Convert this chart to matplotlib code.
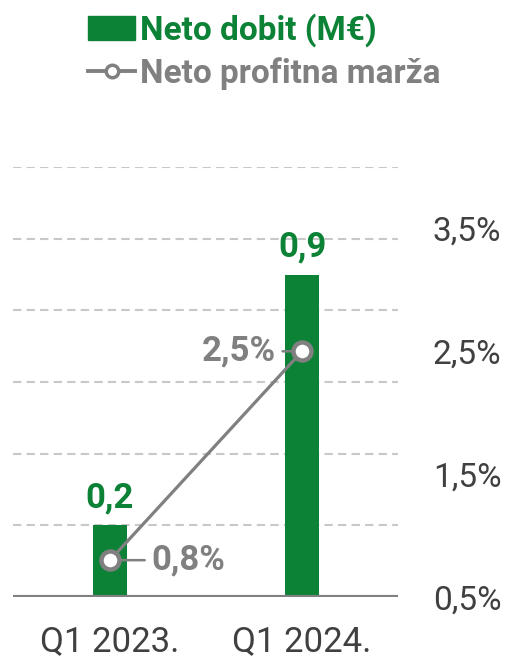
import matplotlib.pyplot as plt
from matplotlib.lines import Line2D
from matplotlib.patches import Patch

plt.rcParams['font.family'] = ['Roboto', 'DejaVu Sans']

# podaci
kvartali = ['Q1 2023.', 'Q1 2024.']
neto_dobit = [0.2, 0.9]          # M€
profitna_marza = [0.8, 2.5]      # %
dobit_oznake = ['0,2', '0,9']
marza_oznake = ['0,8%', '2,5%']
marza_ticks = [0.5, 1.5, 2.5, 3.5]
marza_tick_oznake = ['0,5%', '1,5%', '2,5%', '3,5%']
grid_razine = [0.2, 0.4, 0.6, 0.8, 1.0, 1.2]

zelena = '#0b8235'
siva = '#808080'
tamna = '#404040'

fig = plt.figure(figsize=(5.06, 6.61), dpi=100)
ax = fig.add_axes([0.0257, 0.0968, 0.761, 0.6505])
x = list(range(len(kvartali)))

# grid
for g in grid_razine:
    ax.axhline(g, color='#c8c8c8', lw=1.5, ls=(0, (4, 2.5)), zorder=0)

ax.bar(x, neto_dobit, width=0.18, color=zelena, zorder=2)
ax.axhline(0, color=siva, lw=3, zorder=3)
ax.set_xlim(-0.505, 1.5)
ax.set_ylim(0, 1.2)
ax.set_xticks(x)
ax.set_xticklabels(kvartali, fontsize=25, color=tamna)
ax.tick_params(axis='x', length=0, pad=20)
ax.set_yticks([])
for s in ax.spines.values():
    s.set_visible(False)

for xi, v, t in zip(x, neto_dobit, dobit_oznake):
    ax.annotate(t, (xi, v), xytext=(0, 8), textcoords='offset points',
                ha='center', va='bottom', fontsize=25, fontweight='bold', color=zelena)

# sekundarna os
ax2 = ax.twinx()
ax2.plot(x, profitna_marza, color=siva, lw=2.3, marker='o', ms=13,
         mfc='white', mec=siva, mew=3.2, zorder=5)
ax2.set_ylim(0.5, 4.0)
ax2.set_yticks(marza_ticks)
ax2.set_yticklabels(marza_tick_oznake, fontsize=24, color=tamna)
ax2.tick_params(axis='y', length=0, pad=25)
for s in ax2.spines.values():
    s.set_visible(False)

pomaci = [(30, 0), (-19, 0)]
poravnanja = ['left', 'right']
for xi, v, t, p, h in zip(x, profitna_marza, marza_oznake, pomaci, poravnanja):
    ax2.annotate(t, (xi, v), xytext=p, textcoords='offset points',
                 ha=h, va='center', fontsize=25, fontweight='bold', color=siva,
                 arrowprops=dict(arrowstyle='-', color=siva, lw=1.8,
                                 shrinkA=3, shrinkB=7))

# legenda
rucke = [Patch(color=zelena),
         Line2D([], [], color=siva, lw=2.8, marker='o', ms=9,
                mfc='white', mec=siva, mew=2.5)]
leg = fig.legend(rucke, ['Neto dobit (M€)', 'Neto profitna marža'],
                 loc='upper left', bbox_to_anchor=(0.115, 1.025), frameon=False,
                 prop={'size': 24, 'weight': 'bold'}, handlelength=1.4,
                 handleheight=0.75, handletextpad=0.15, labelspacing=0.3)
for txt, c in zip(leg.get_texts(), [zelena, siva]):
    txt.set_color(c)

fig.savefig('out.png', dpi=100)
